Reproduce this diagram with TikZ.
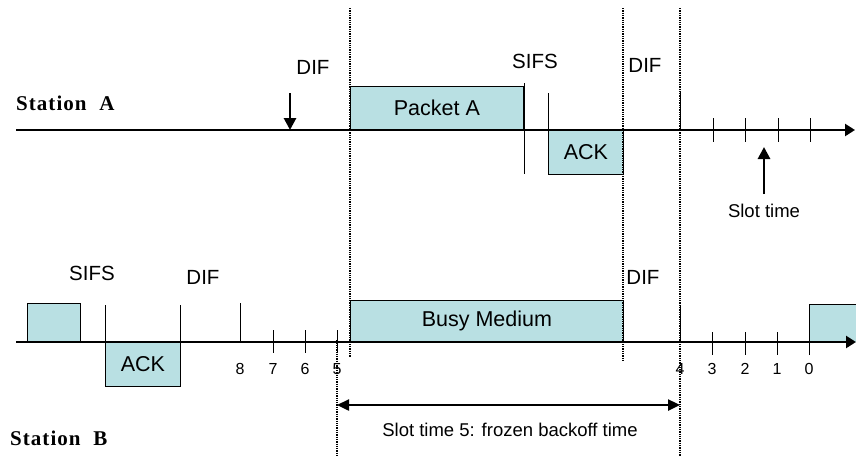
\documentclass[tikz,border=0pt]{standalone}
\usepackage{fontspec}
\setmainfont{Liberation Serif}
\setsansfont{Liberation Sans}
\newfontfamily\stationfont[LetterSpace=5]{Liberation Serif}
\usetikzlibrary{arrows.meta}
\definecolor{paleblue}{RGB}{185,224,227}
\tikzset{
  frame/.style={draw, line width=0.8pt, fill=paleblue, inner sep=0pt, font=\sffamily\fontsize{21.5}{24}\selectfont},
  axis/.style={line width=2.4pt, -{Triangle[length=10pt,width=12pt]}},
  guide/.style={densely dotted, line width=1.3pt},
  mark line/.style={line width=0.8pt},
  drop/.style={line width=2.8pt, -{Triangle[length=12pt,width=12pt]}},
  span/.style={line width=2.4pt, {Triangle[length=12pt,width=11pt]}-{Triangle[length=12pt,width=11pt]}},
  lbl/.style={font=\sffamily\fontsize{20.5}{23}\selectfont, inner sep=0pt},
  small/.style={font=\sffamily\fontsize{18.5}{21}\selectfont, inner sep=0pt},
  num/.style={font=\sffamily\fontsize{16}{18}\selectfont, inner sep=0pt},
  station/.style={font=\stationfont\bfseries\fontsize{21}{24}\selectfont, inner sep=0pt, anchor=west},
}
\begin{document}
\begin{tikzpicture}[x=1pt, y=-1pt]
  \useasboundingbox (0,0) rectangle (856,456);
  % station A
  \node[station] (staA) at (16,103) {Station\ \ A};
  \coordinate (a0) at (16,130);
  \coordinate (a1) at (855,130);
  \node[frame, minimum width=173pt, minimum height=43pt, anchor=south west] (pktA) at (350,130) {Packet A};
  \node[frame, minimum width=75pt, minimum height=44pt, anchor=north west] (ackA) at (548,130) {ACK};
  \draw[axis] (a0) -- (a1);
  \draw[mark line] (524,83) -- (524,174);
  \draw[mark line] (548,93) -- (548,130);
  \draw[mark line] (680,92) -- (680,130);
  \foreach \x in {713,745,778,810}
    \draw[mark line] (\x,118) -- (\x,142);
  \node[lbl] (difA1) at (313,67) {DIF};
  \node[lbl] (sifsA) at (535,61) {SIFS};
  \node[lbl] (difA2) at (645,65) {DIF};
  \coordinate (difTop) at (290,93);
  \coordinate (difFoot) at (290,130);
  \draw[drop] (difTop) -- (difFoot);
  \node[small] (slot) at (764,211) {Slot time};
  \coordinate (slotTail) at (764,194);
  \coordinate (slotTip) at (764,147);
  \draw[drop] (slotTail) -- (slotTip);
  % station B
  \node[station] (staB) at (10,438) {Station\ \ B};
  \coordinate (b0) at (16,342);
  \coordinate (b1) at (856,342);
  \node[frame, minimum width=53pt, minimum height=38pt, anchor=south west] (pktL) at (27,342) {};
  \fill[paleblue] (809,304) rectangle (856,342);
  \draw[mark line] (809,355) -- (809,304) -- (856,304);
  \node[frame, minimum width=75pt, minimum height=44pt, anchor=north west] (ackB) at (105,342) {ACK};
  \node[frame, minimum width=273pt, minimum height=41pt, anchor=south west] (busy) at (350,342) {Busy Medium};
  \draw[axis] (b0) -- (b1);
  \draw[mark line] (105,305) -- (105,342);
  \draw[mark line] (180,305) -- (180,342);
  \draw[mark line] (240,303) -- (240,342);
  \draw[mark line] (680,305) -- (680,343);
  \foreach \x in {273,305,337}
    \draw[mark line] (\x,330) -- (\x,353);
  \foreach \x in {712,745,777}
    \draw[mark line] (\x,332) -- (\x,355);
  \foreach \x/\n in {240/8,273/7,305/6,337/5,680/4,712/3,745/2,777/1,809/0}
    \node[num] (n\n) at (\x,369) {\n};
  \node[lbl] (sifsB) at (92,273) {SIFS};
  \node[lbl] (difB1) at (203,277) {DIF};
  \node[lbl] (difB2) at (643,277) {DIF};
  % guides
  \draw[guide] (350,8) -- (350,357);
  \draw[guide] (623,8) -- (623,360);
  \draw[guide] (680,8) -- (680,456);
  \draw[guide] (337,340) -- (337,456);
  \coordinate (frozen0) at (337,405);
  \coordinate (frozen1) at (680,405);
  \draw[span] (frozen0) -- (frozen1);
  \node[small] (frozen) at (510,430) {Slot time 5: frozen backoff time};
\end{tikzpicture}
\end{document}
